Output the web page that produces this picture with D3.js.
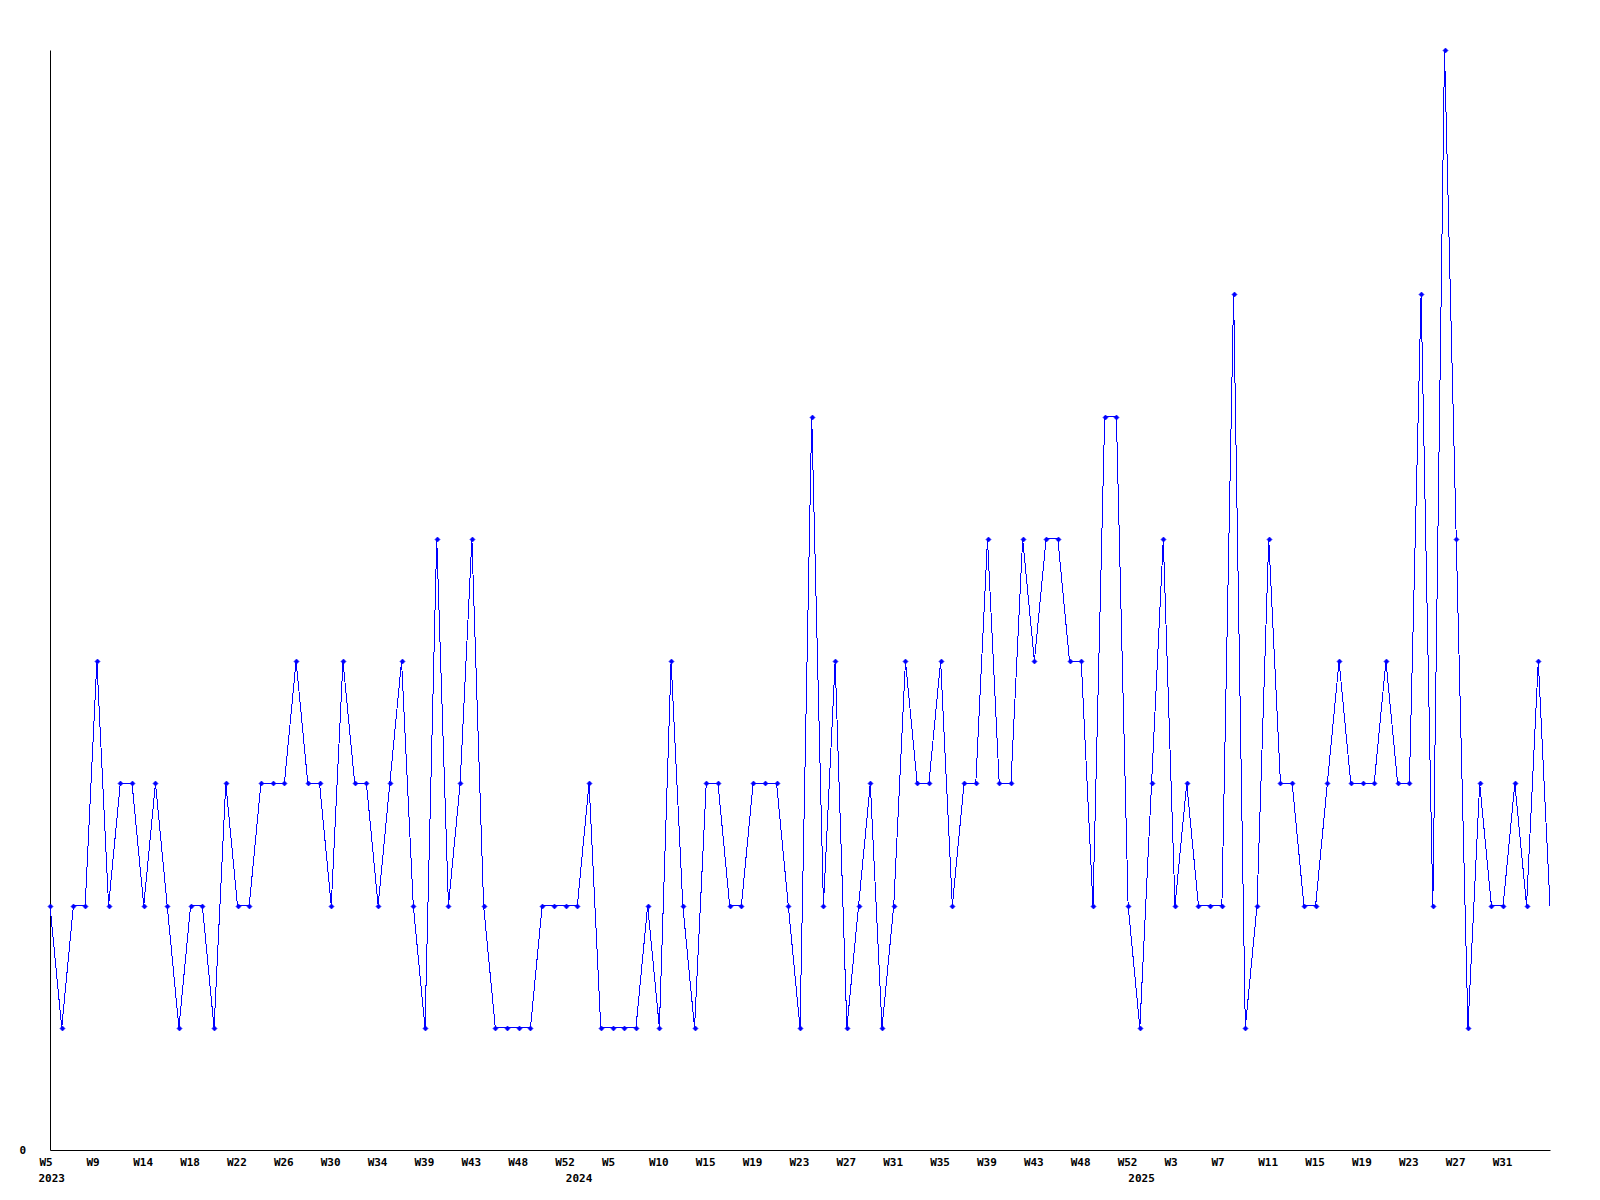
<!DOCTYPE html>
<html>
<head>
<meta charset="utf-8">
<script src="https://cdn.jsdelivr.net/npm/d3@7"></script>
<style>
  html, body { margin: 0; padding: 0; background: #ffffff; }
  svg { display: block; }
  .tick text, .lbl { font-family: "DejaVu Sans Mono", monospace; font-weight: bold; font-size: 11px; fill: #000; }
</style>
</head>
<body>
<svg id="chart" width="1600" height="1200"></svg>
<script>
// ---- data ----
const values = [
  2,1,2,2,4,2,3,3,2,3,
  2,1,2,2,1,3,2,2,3,3,
  3,4,3,3,2,4,3,3,2,3,
  4,2,1,5,2,3,5,2,1,1,
  1,1,2,2,2,2,3,1,1,1,
  1,2,1,4,2,1,3,3,2,2,
  3,3,3,2,1,6,2,4,1,2,
  3,1,2,4,3,3,4,2,3,3,
  5,3,3,5,4,5,5,4,4,2,
  6,6,2,1,3,5,2,3,2,2,
  2,7,1,2,5,3,3,2,2,3,
  4,3,3,3,4,3,3,7,2,9,
  5,1,3,2,2,3,2,4,2
];
const weekLabels = ["W5","W9","W14","W18","W22","W26","W30","W34","W39","W43","W48","W52",
                    "W5","W10","W15","W19","W23","W27","W31","W35","W39","W43","W48","W52",
                    "W3","W7","W11","W15","W19","W23","W27","W31"];
const weekLabelIndex = weekLabels.map((d, i) => i * 4);
const years = ["2023", "2024", "2025"];
const yearIndex = [0, 45, 93];
const yTicks = [0];

// ---- scales ----
const svg = d3.select("#chart");
const x = d3.scaleLinear().domain([0, values.length - 1]).range([50, 1550]);
const y = d3.scaleLinear().domain([0, 9]).range([1150, 50]);

// ---- axes ----
const xAxis = d3.axisBottom(x)
  .tickValues(weekLabelIndex)
  .tickFormat((d, i) => weekLabels[i])
  .tickSize(0).tickSizeOuter(0);
const gx = svg.append("g").attr("transform", "translate(0,1150)").call(xAxis);
gx.select(".domain").attr("stroke", "#000");
gx.selectAll(".tick text").attr("text-anchor", "start").attr("x", -11).attr("y", 8).attr("dy", "0.71em");

const yearAxis = d3.axisBottom(x)
  .tickValues(yearIndex)
  .tickFormat((d, i) => years[i])
  .tickSize(0).tickSizeOuter(0);
const gyear = svg.append("g").attr("transform", "translate(0,1166)").call(yearAxis);
gyear.select(".domain").remove();
gyear.selectAll(".tick text").attr("text-anchor", "start").attr("x", -12).attr("y", 8).attr("dy", "0.71em");

const yAxis = d3.axisLeft(y)
  .tickValues(yTicks)
  .tickFormat(d => String(d))
  .tickSize(0).tickSizeOuter(0);
const gy = svg.append("g").attr("transform", "translate(50,0)").call(yAxis);
gy.select(".domain").attr("stroke", "#000");
gy.selectAll(".tick text").attr("x", -24).attr("text-anchor", "end").attr("dy", "0.32em");

// ---- line ----
const line = d3.line().x((d, i) => x(i)).y(d => y(d));
svg.append("path")
  .datum(values)
  .attr("d", line)
  .attr("fill", "none")
  .attr("stroke", "#0000ff")
  .attr("stroke-width", 1)
  .attr("shape-rendering", "crispEdges");

// ---- markers (all but the last point) ----
const markerData = values.slice(0, values.length - 1);
svg.append("g").selectAll("path")
  .data(markerData)
  .join("path")
  .attr("d", (d, i) => {
    const cx = Math.round(x(i)) + 0.5, cy = Math.round(y(d)) + 0.5, r = 2.5;
    return `M${cx},${cy - r}L${cx + r},${cy}L${cx},${cy + r}L${cx - r},${cy}Z`;
  })
  .attr("fill", "#0000ff")
  .attr("stroke", "#0000ff")
  .attr("stroke-width", 0.6);
</script>
</body>
</html>
